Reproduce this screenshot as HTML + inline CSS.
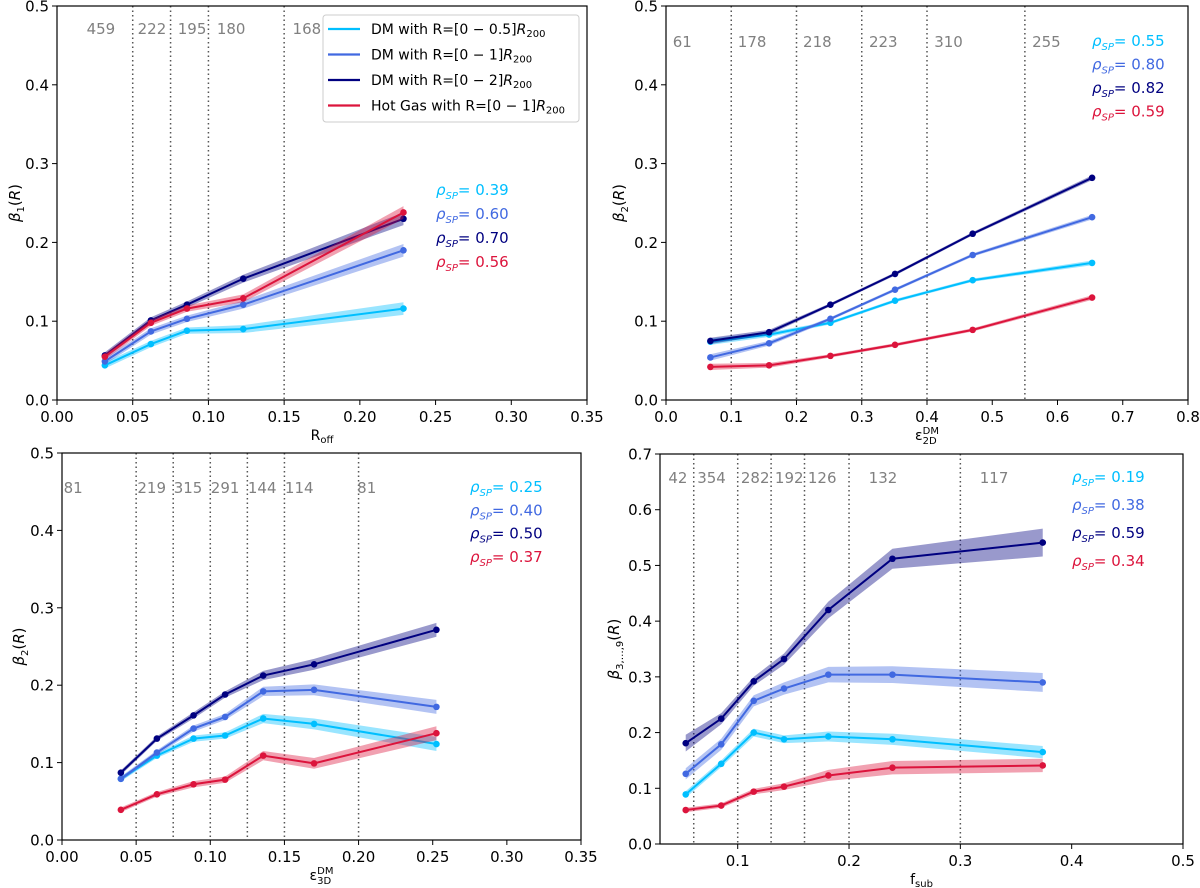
<!DOCTYPE html>
<html><head><meta charset="utf-8"><style>
body{margin:0;background:#fff}
svg{display:block;font-family:"DejaVu Sans","Liberation Sans",sans-serif}
</style></head><body>
<svg id="fig" width="1200" height="888" viewBox="0 0 1200 888" xmlns="http://www.w3.org/2000/svg"></svg>
<script>
// ---------- Panel 1 data (R_off) ----------
const p1X = [0.0316, 0.062, 0.0858, 0.123, 0.2288];
const p1Cyan = [0.044, 0.071, 0.088, 0.090, 0.116];
const p1Blue = [0.049, 0.087, 0.103, 0.121, 0.190];
const p1Dark = [0.0566, 0.101, 0.121, 0.154, 0.230];
const p1Red = [0.055, 0.098, 0.116, 0.129, 0.238];
const p1Err = [0.004, 0.004, 0.004, 0.005, 0.008];
const p1Bins = [0.05, 0.075, 0.10, 0.15];
const p1Counts = ["459", "222", "195", "180", "168"];
const p1CountX = [0.029, 0.0627, 0.0892, 0.115, 0.165];
const p1Rho = ["0.39", "0.60", "0.70", "0.56"];
const p1XTicks = ["0.00","0.05","0.10","0.15","0.20","0.25","0.30","0.35"];
const p1YTicks = ["0.0","0.1","0.2","0.3","0.4","0.5"];

// ---------- Panel 2 data (eps 2D) ----------
const p2X = [0.068, 0.158, 0.252, 0.351, 0.470, 0.653];
const p2Cyan = [0.074, 0.083, 0.098, 0.126, 0.152, 0.174];
const p2Blue = [0.054, 0.072, 0.103, 0.140, 0.184, 0.232];
const p2Dark = [0.075, 0.086, 0.121, 0.160, 0.211, 0.282];
const p2Red = [0.042, 0.044, 0.056, 0.070, 0.089, 0.130];
const p2Err = [0.004, 0.003, 0.002, 0.002, 0.002, 0.003];
const p2Bins = [0.1, 0.2, 0.3, 0.4, 0.55];
const p2Counts = ["61", "178", "218", "223", "310", "255"];
const p2CountX = [0.025, 0.132, 0.232, 0.333, 0.433, 0.583];
const p2Rho = ["0.55", "0.80", "0.82", "0.59"];
const p2XTicks = ["0.0","0.1","0.2","0.3","0.4","0.5","0.6","0.7","0.8"];
const p2YTicks = ["0.0","0.1","0.2","0.3","0.4","0.5"];

// ---------- Panel 3 data (eps 3D) ----------
const p3X = [0.0397, 0.064, 0.0887, 0.110, 0.1357, 0.170, 0.2525];
const p3Cyan = [0.079, 0.109, 0.131, 0.135, 0.157, 0.150, 0.124];
const p3Blue = [0.079, 0.113, 0.144, 0.159, 0.192, 0.194, 0.172];
const p3Dark = [0.087, 0.131, 0.161, 0.188, 0.2125, 0.227, 0.2716];
const p3Red = [0.039, 0.059, 0.072, 0.078, 0.109, 0.099, 0.138];
const p3Err = [0.003, 0.003, 0.004, 0.004, 0.006, 0.007, 0.009];
const p3Bins = [0.05, 0.075, 0.10, 0.125, 0.15, 0.20];
const p3Counts = ["81", "219", "315", "291", "144", "114", "81"];
const p3CountX = [0.0075, 0.0605, 0.085, 0.11, 0.135, 0.16, 0.2055];
const p3Rho = ["0.25", "0.40", "0.50", "0.37"];
const p3XTicks = ["0.00","0.05","0.10","0.15","0.20","0.25","0.30","0.35"];
const p3YTicks = ["0.0","0.1","0.2","0.3","0.4","0.5"];

// ---------- Panel 4 data (f_sub) ----------
const p4X = [0.0533, 0.0852, 0.1144, 0.1416, 0.1814, 0.239, 0.374];
const p4Cyan = [0.089, 0.144, 0.200, 0.188, 0.193, 0.188, 0.165];
const p4Blue = [0.126, 0.179, 0.257, 0.279, 0.304, 0.304, 0.290];
const p4Dark = [0.181, 0.225, 0.292, 0.332, 0.420, 0.512, 0.541];
const p4Red = [0.061, 0.069, 0.094, 0.103, 0.123, 0.137, 0.141];
const p4ErrCyan = [0.006, 0.006, 0.007, 0.007, 0.009, 0.010, 0.011];
const p4ErrBlue = [0.010, 0.010, 0.010, 0.011, 0.014, 0.015, 0.017];
const p4ErrDark = [0.015, 0.010, 0.008, 0.010, 0.015, 0.018, 0.025];
const p4ErrRed = [0.004, 0.004, 0.005, 0.006, 0.010, 0.012, 0.012];
const p4Bins = [0.0605, 0.10, 0.13, 0.16, 0.20, 0.30];
const p4Counts = ["42", "354", "282", "192", "126", "132", "117"];
const p4CountX = [0.0463, 0.0765, 0.1157, 0.1463, 0.1759, 0.2305, 0.3303];
const p4Rho = ["0.19", "0.38", "0.59", "0.34"];
const p4XTicks = ["0.1","0.2","0.3","0.4","0.5"];
const p4XTickVals = [0.1, 0.2, 0.3, 0.4, 0.5];
const p4YTicks = ["0.0","0.1","0.2","0.3","0.4","0.5","0.6","0.7"];

const COLORS = {cyan:"#00bfff", blue:"#4169e1", dark:"#000080", red:"#dc143c"};
const NS = "http://www.w3.org/2000/svg";
const svg = document.getElementById("fig");
function mk(tag, attrs, parent){
  const e = document.createElementNS(NS, tag);
  for (const k in attrs) e.setAttribute(k, attrs[k]);
  (parent || svg).appendChild(e);
  return e;
}

function drawPanel(o){
  const g = mk("g", {});
  
  
  const sx = v => o.x0 + (v - o.xmin) / (o.xmax - o.xmin) * (o.x1 - o.x0);
  const sy = v => o.y1 - (v - o.ymin) / (o.ymax - o.ymin) * (o.y1 - o.y0);
  o.bins.forEach(b => {
    const l = mk("line", {x1:sx(b), x2:sx(b), y1:o.y0, y2:o.y1, stroke:"#555", "stroke-width":1.5, "stroke-dasharray":"1.5,3"}, g);
    
    
  });
  o.counts.forEach((c, i) => {
    const t = mk("text", {x:sx(o.countX[i]), y:o.countY, "font-size":15, fill:"#808080", "text-anchor":"middle"}, g);
    t.textContent = c;
    
    
  });
  o.series.forEach(s => {
    let up = s.vals.map((v, i) => sx(o.xs[i]) + "," + sy(v + s.err[i]));
    let dn = s.vals.map((v, i) => sx(o.xs[i]) + "," + sy(v - s.err[i])).reverse();
    const band = mk("polygon", {points: up.concat(dn).join(" "), fill: s.color, "fill-opacity": 0.4, stroke:"none"}, g);
    
    
    const pl = mk("polyline", {points: s.vals.map((v, i) => sx(o.xs[i]) + "," + sy(v)).join(" "), fill:"none", stroke:s.color, "stroke-width":2}, g);
    
    
    s.vals.forEach((v, i) => {
      const c = mk("circle", {cx:sx(o.xs[i]), cy:sy(v), r:3.3, fill:s.color}, g);
      
      
    });
  });
  const fr = mk("rect", {x:o.x0, y:o.y0, width:o.x1 - o.x0, height:o.y1 - o.y0, fill:"none", stroke:"#000", "stroke-width":1.2}, g);
  
  
  o.xTicks.forEach((lab, i) => {
    const v = o.xTickVals ? o.xTickVals[i] : parseFloat(lab);
    const X = sx(v);
    mk("line", {x1:X, x2:X, y1:o.y1, y2:o.y1 + 5, stroke:"#000", "stroke-width":1}, g);
    const t = mk("text", {x:X, y:o.y1 + 22, "font-size":15, "text-anchor":"middle", fill:"#000"}, g);
    t.textContent = lab;
    
    
  });
  o.yTicks.forEach(lab => {
    const Y = sy(parseFloat(lab));
    mk("line", {x1:o.x0 - 5, x2:o.x0, y1:Y, y2:Y, stroke:"#000", "stroke-width":1}, g);
    const t = mk("text", {x:o.x0 - 8, y:Y + 5.5, "font-size":15, "text-anchor":"end", fill:"#000"}, g);
    t.textContent = lab;
    
    
  });
  const rc = [COLORS.cyan, COLORS.blue, COLORS.dark, COLORS.red];
  o.rho.forEach((r, i) => {
    const t = mk("text", {x:o.rhoX, y:o.rhoY + i * o.rhoDy, "font-size":15, fill:rc[i]}, g);
    
    
    t.innerHTML = '<tspan font-style="italic">ρ</tspan><tspan font-style="italic" font-size="10" dy="4">SP</tspan><tspan dy="-4">= ' + r + '</tspan>';
  });
  const xl = mk("text", {x:(o.x0 + o.x1) / 2, y:o.y1 + 40, "font-size":14, "text-anchor":"middle"}, g);
  
  
  xl.innerHTML = o.xlabel;
  const yl = mk("text", {x:0, y:0, "font-size":15, "text-anchor":"middle", transform:"translate(" + o.ylx + "," + ((o.y0 + o.y1) / 2) + ") rotate(-90)"}, g);
  
  
  yl.innerHTML = o.ylabel;
  return {sx, sy, g};
}

drawPanel({name:"panel-r-off", x0:57, x1:587, y0:6, y1:400, xmin:0, xmax:0.35, ymin:0, ymax:0.5,
  xs:p1X, bins:p1Bins, counts:p1Counts, countX:p1CountX, countY:34, rho:p1Rho, rhoX:436, rhoY:195, rhoDy:24,
  xTicks:p1XTicks, yTicks:p1YTicks, ylx:20,
  xlabel:'R<tspan font-size="10" dy="3">off</tspan>',
  ylabel:'<tspan font-style="italic">β</tspan><tspan font-size="10" dy="4">1</tspan><tspan dy="-4">(</tspan><tspan font-style="italic">R</tspan>)',
  series:[{key:"dm-0-0.5", color:COLORS.cyan, vals:p1Cyan, err:p1Err},
          {key:"dm-0-1", color:COLORS.blue, vals:p1Blue, err:p1Err},
          {key:"dm-0-2", color:COLORS.dark, vals:p1Dark, err:p1Err},
          {key:"hot-gas", color:COLORS.red, vals:p1Red, err:p1Err}]});

drawPanel({name:"panel-eps-2d", x0:666, x1:1188, y0:6, y1:400, xmin:0, xmax:0.8, ymin:0, ymax:0.5,
  xs:p2X, bins:p2Bins, counts:p2Counts, countX:p2CountX, countY:47, rho:p2Rho, rhoX:1092, rhoY:46, rhoDy:23.5,
  xTicks:p2XTicks, yTicks:p2YTicks, ylx:624,
  xlabel:'ε<tspan font-size="10" dy="4">2D</tspan><tspan font-size="10" dx="-14" dy="-10">DM</tspan>',
  ylabel:'<tspan font-style="italic">β</tspan><tspan font-size="10" dy="4">2</tspan><tspan dy="-4">(</tspan><tspan font-style="italic">R</tspan>)',
  series:[{key:"dm-0-0.5", color:COLORS.cyan, vals:p2Cyan, err:p2Err},
          {key:"dm-0-1", color:COLORS.blue, vals:p2Blue, err:p2Err},
          {key:"dm-0-2", color:COLORS.dark, vals:p2Dark, err:p2Err},
          {key:"hot-gas", color:COLORS.red, vals:p2Red, err:p2Err}]});

drawPanel({name:"panel-eps-3d", x0:62, x1:581, y0:453, y1:840, xmin:0, xmax:0.35, ymin:0, ymax:0.5,
  xs:p3X, bins:p3Bins, counts:p3Counts, countX:p3CountX, countY:493, rho:p3Rho, rhoX:470, rhoY:492, rhoDy:23.3,
  xTicks:p3XTicks, yTicks:p3YTicks, ylx:24,
  xlabel:'ε<tspan font-size="10" dy="4">3D</tspan><tspan font-size="10" dx="-14" dy="-10">DM</tspan>',
  ylabel:'<tspan font-style="italic">β</tspan><tspan font-size="10" dy="4">2</tspan><tspan dy="-4">(</tspan><tspan font-style="italic">R</tspan>)',
  series:[{key:"dm-0-0.5", color:COLORS.cyan, vals:p3Cyan, err:p3Err},
          {key:"dm-0-1", color:COLORS.blue, vals:p3Blue, err:p3Err},
          {key:"dm-0-2", color:COLORS.dark, vals:p3Dark, err:p3Err},
          {key:"hot-gas", color:COLORS.red, vals:p3Red, err:p3Err}]});

drawPanel({name:"panel-f-sub", x0:660, x1:1183, y0:454, y1:844, xmin:0.0302, xmax:0.5, ymin:0, ymax:0.7,
  xs:p4X, bins:p4Bins, counts:p4Counts, countX:p4CountX, countY:483, rho:p4Rho, rhoX:1072, rhoY:482, rhoDy:28,
  xTicks:p4XTicks, xTickVals:p4XTickVals, yTicks:p4YTicks, ylx:619,
  xlabel:'f<tspan font-size="10" dy="3">sub</tspan>',
  ylabel:'<tspan font-style="italic">β</tspan><tspan font-size="10" dy="4">3,…,9</tspan><tspan dy="-4">(</tspan><tspan font-style="italic">R</tspan>)',
  series:[{key:"dm-0-0.5", color:COLORS.cyan, vals:p4Cyan, err:p4ErrCyan},
          {key:"dm-0-1", color:COLORS.blue, vals:p4Blue, err:p4ErrBlue},
          {key:"dm-0-2", color:COLORS.dark, vals:p4Dark, err:p4ErrDark},
          {key:"hot-gas", color:COLORS.red, vals:p4Red, err:p4ErrRed}]});

const legendLabels = ["DM with R=[0 − 0.5]", "DM with R=[0 − 1]", "DM with R=[0 − 2]", "Hot Gas with R=[0 − 1]"];
const legendColors = [COLORS.cyan, COLORS.blue, COLORS.dark, COLORS.red];
const lg = mk("g", {});


mk("rect", {x:323, y:15, width:256, height:107, rx:3, fill:"#fff", "fill-opacity":0.85, stroke:"#ccc"}, lg);
legendLabels.forEach((lab, i) => {
  const y = 29 + i * 25.5;
  const ln = mk("line", {x1:328, x2:360, y1:y, y2:y, stroke:legendColors[i], "stroke-width":2.2}, lg);
  
  
  const t = mk("text", {x:371, y:y + 5, "font-size":14, fill:"#000"}, lg);
  
  
  t.innerHTML = lab + '<tspan font-style="italic">R</tspan><tspan font-size="10" dy="3">200</tspan>';
});
</script>
</body></html>
